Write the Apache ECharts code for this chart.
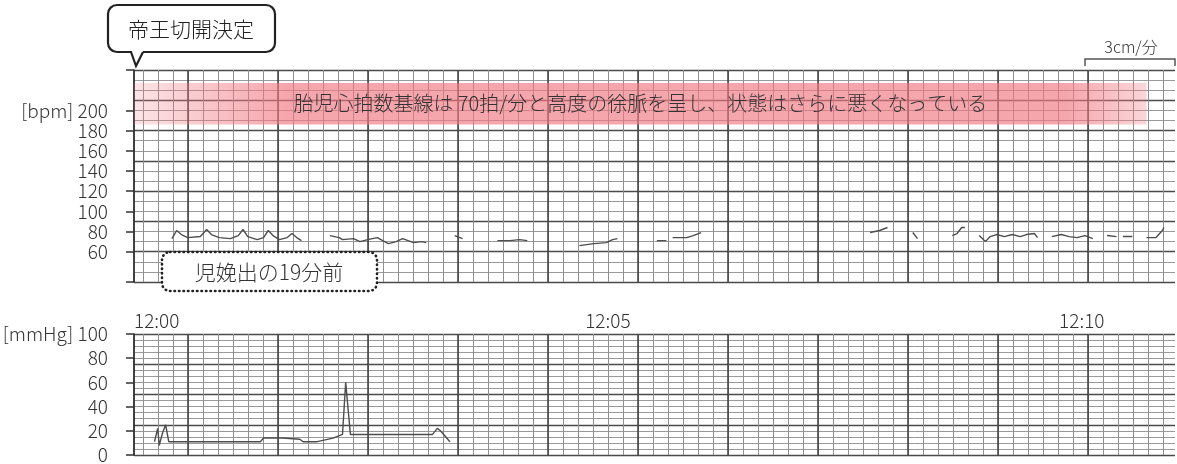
<!DOCTYPE html>
<html>
<head>
<meta charset="utf-8">
<script src="https://cdn.jsdelivr.net/npm/echarts@6/dist/echarts.min.js"></script>
<style>
html, body { margin: 0; padding: 0; background: #fff; }
#container { width: 1177px; height: 464px; }
</style>
</head>
<body>
<div id="container"></div>
<script>
var FONT = '"Noto Sans CJK JP", "Noto Sans", sans-serif';

// 目盛り
var timeTicks = [0, 300, 600];          // 12:00 からの秒
var bpmTicks = [60, 80, 100, 120, 140, 160, 180, 200];
var mmHgTicks = [0, 20, 40, 60, 80, 100];

// 胎児心拍数 (null は記録の途切れ)
var fhrSeconds = [24, 27, 30, 34, 42, 46, 49, 54, 61, 66, 69, 72, 78, 82, 85, 88, 92, 97, 100, 103, 106, null,
    124, 130, 132, 139, 143, 148, 154, 161, 166, 170, 177, 182, 185, null,
    203, 208, null,
    230, 238, 244, 249, null,
    282, 291, 299, 303, 306, null,
    331, 337, null,
    341, 350, 354, 359, null,
    466, 472, 477, null,
    493, 496, null,
    518, 521, 524, 526, null,
    535, 539, 542, 546, 551, 556, 561, 565, 570, 572, null,
    581, 587, 592, 597, 602, 607, null,
    616, 622, null,
    626, 632, null,
    641, 647, 651, 652];
var fhrBpm = [73, 81, 77, 74, 75, 82, 77, 74, 73, 76, 82, 75, 72, 74, 81, 76, 72, 74, 78, 74, 71, null,
    76, 74, 72, 73, 70, 72, 74, 68, 70, 73, 69, 70, 69, null,
    76, 73, null,
    71, 71, 72, 71, null,
    66, 68, 69, 72, 73, null,
    71, 71, null,
    74, 74, 76, 79, null,
    79, 81, 84, null,
    79, 73, null,
    76, 78, 84, 84, null,
    76, 70, 75, 77, 75, 77, 75, 77, 78, 74, null,
    75, 77, 75, 74, 76, 73, null,
    76, 75, null,
    75, 75, null,
    74, 74, 81, 84];

// 子宮収縮 (mmHg)
var uaSeconds = [13, 15, 16, 18, 20, 22, 80, 82, 94, 105, 107, 116, 126, 132, 134, 135, 137, 189, 192, 194, 200];
var uaMmHg = [11, 22, 8, 18, 25, 11, 11, 14, 14, 13, 11, 11, 14, 17, 60, 59, 17, 17, 22, 20, 11];

var baselineNote = '胎児心拍数基線は 70拍/分と高度の徐脈を呈し、状態はさらに悪くなっている';
var noteBand = [[0, 227], [641, 186]];

// 記録紙の罫線 (紙送り 3cm/分)
var paperThin = [], paperThick = [0];
for (var s = 6; s <= 694; s += 10) paperThin.push(s);
for (var s2 = 36; s2 <= 694; s2 += 60) paperThick.push(s2);

function toPairs(xs, ys) {
    var out = [];
    for (var i = 0; i < xs.length; i++) {
        if (xs[i] === null) out.push([xs[i - 1], '-']);
        else out.push([xs[i], ys[i]]);
    }
    return out;
}

function paperX(grid, values, color, width) {
    return {
        type: 'value', gridIndex: grid, min: 0, max: 694,
        axisLine: {show: false},
        axisTick: {show: false, customValues: values},
        axisLabel: {show: false},
        splitLine: {show: true, lineStyle: {color: color, width: width}}
    };
}

function timeLabel(v) {
    var m = Math.floor(v / 60);
    return '12:' + (m < 10 ? '0' : '') + m;
}

var dom = document.getElementById('container');
var myChart = echarts.init(dom);

var labelStyle = {fontSize: 19, color: '#333', fontFamily: FONT, fontWeight: 300};

var option = {
    animation: false,
    textStyle: {fontFamily: FONT},
    grid: [
        {left: 134, right: 2, top: 70, height: 212, outerBoundsMode: 'none'},
        {left: 134, right: 2, top: 334, height: 121, outerBoundsMode: 'none'}
    ],
    xAxis: [
        {type: 'value', gridIndex: 0, min: 0, max: 659, show: false},
        paperX(0, paperThin, '#8f8f8f', 1),
        paperX(0, paperThick, '#3d3d3d', 1.5),
        {
            type: 'value', gridIndex: 1, min: 0, max: 659, position: 'top',
            axisLine: {show: false},
            axisTick: {show: false},
            splitLine: {show: false},
            axisLabel: echarts.util.extend({
                customValues: timeTicks,
                formatter: timeLabel,
                alignMinLabel: 'left',
                margin: 4
            }, labelStyle)
        },
        paperX(1, paperThin, '#8f8f8f', 1),
        paperX(1, paperThick, '#3d3d3d', 1.5)
    ],
    yAxis: [
        {
            type: 'value', gridIndex: 0, min: 30, max: 240, position: 'left', offset: 12,
            axisLine: {show: true, lineStyle: {color: '#333', width: 1.5}},
            axisTick: {show: true, length: 8, customValues: [30].concat(bpmTicks, [240]),
                lineStyle: {color: '#333', width: 1.5}},
            axisLabel: echarts.util.extend({
                customValues: bpmTicks,
                formatter: function (v) { return v === 200 ? '[bpm] 200' : v; },
                margin: 14
            }, labelStyle),
            splitLine: {show: false}
        },
        {
            type: 'value', gridIndex: 0, min: 30, max: 240, interval: 30,
            axisLine: {show: false}, axisTick: {show: false}, axisLabel: {show: false},
            splitLine: {show: true, lineStyle: {color: '#4a4a4a', width: 1.4}},
            minorTick: {show: false, splitNumber: 3},
            minorSplitLine: {show: true, lineStyle: {color: '#9a9a9a', width: 1}}
        },
        {
            type: 'value', gridIndex: 1, min: 0, max: 100, position: 'left', offset: 12,
            axisLine: {show: true, lineStyle: {color: '#333', width: 1.5}},
            axisTick: {show: true, length: 8, customValues: mmHgTicks,
                lineStyle: {color: '#333', width: 1.5}},
            axisLabel: echarts.util.extend({
                customValues: mmHgTicks,
                formatter: function (v) { return v === 100 ? '[mmHg] 100' : v; },
                margin: 14
            }, labelStyle),
            splitLine: {show: false}
        },
        {
            type: 'value', gridIndex: 1, min: 0, max: 100, interval: 25,
            axisLine: {show: false}, axisTick: {show: false}, axisLabel: {show: false},
            splitLine: {show: true, lineStyle: {color: '#4a4a4a', width: 1.4}},
            minorTick: {show: false, splitNumber: 5},
            minorSplitLine: {show: true, lineStyle: {color: '#9a9a9a', width: 1}}
        }
    ],
    series: [
        {
            name: 'FHR',
            type: 'line',
            xAxisIndex: 0,
            yAxisIndex: 0,
            showSymbol: false,
            connectNulls: false,
            silent: true,
            lineStyle: {color: '#4d4d4d', width: 1.4},
            data: toPairs(fhrSeconds, fhrBpm),
            markArea: {
                silent: true,
                itemStyle: {
                    color: new echarts.graphic.LinearGradient(0, 0, 1, 0, [
                        {offset: 0, color: 'rgba(240,120,130,0.2)'},
                        {offset: 0.15, color: 'rgba(240,120,130,0.66)'},
                        {offset: 0.92, color: 'rgba(240,120,130,0.66)'},
                        {offset: 1, color: 'rgba(240,120,130,0.3)'}
                    ])
                },
                label: {
                    show: true, position: 'inside', color: '#333',
                    fontSize: 20, fontFamily: FONT, fontWeight: 300
                },
                data: [[
                    {name: baselineNote, coord: noteBand[0]},
                    {coord: noteBand[1]}
                ]]
            }
        },
        {
            name: 'UA',
            type: 'line',
            xAxisIndex: 3,
            yAxisIndex: 2,
            showSymbol: false,
            silent: true,
            lineStyle: {color: '#4d4d4d', width: 1.4},
            data: toPairs(uaSeconds, uaMmHg)
        }
    ],
    graphic: [
        // 吹き出し
        {type: 'rect', z: 100, shape: {x: 108, y: 5, width: 167, height: 47, r: 9},
            style: {fill: '#fff', stroke: '#222', lineWidth: 2.2}},
        {type: 'rect', z: 101, shape: {x: 132, y: 49, width: 11, height: 5},
            style: {fill: '#fff'}},
        {type: 'polyline', z: 102, shape: {points: [[131, 52], [136, 66], [143, 52]]},
            style: {fill: null, stroke: '#222', lineWidth: 2.2}},
        {type: 'text', z: 103, x: 191, y: 29,
            style: {text: '帝王切開決定', fontSize: 21, fontFamily: FONT, fontWeight: 300, fill: '#222',
                align: 'center', verticalAlign: 'middle', textAlign: 'center', textVerticalAlign: 'middle'}},
        // 点線の枠
        {type: 'rect', z: 100, shape: {x: 162, y: 252, width: 215, height: 39, r: 8},
            style: {fill: '#fff', stroke: '#222', lineWidth: 2.6, lineDash: [0.5, 4], lineCap: 'round'}},
        {type: 'text', z: 103, x: 269, y: 272,
            style: {text: '児娩出の19分前', fontSize: 21, fontFamily: FONT, fontWeight: 300, fill: '#333',
                align: 'center', verticalAlign: 'middle', textAlign: 'center', textVerticalAlign: 'middle'}},
        // 3cm/分
        {type: 'polyline', z: 100, shape: {points: [[1085, 66], [1085, 59], [1175, 59], [1175, 66]]},
            style: {fill: null, stroke: '#555', lineWidth: 1.5}},
        {type: 'text', z: 103, x: 1131, y: 47,
            style: {text: '3cm/分', fontSize: 16, fontFamily: FONT, fontWeight: 300, fill: '#333',
                align: 'center', verticalAlign: 'middle', textAlign: 'center', textVerticalAlign: 'middle'}}
    ]
};

myChart.setOption(option, true);
</script>
</body>
</html>
